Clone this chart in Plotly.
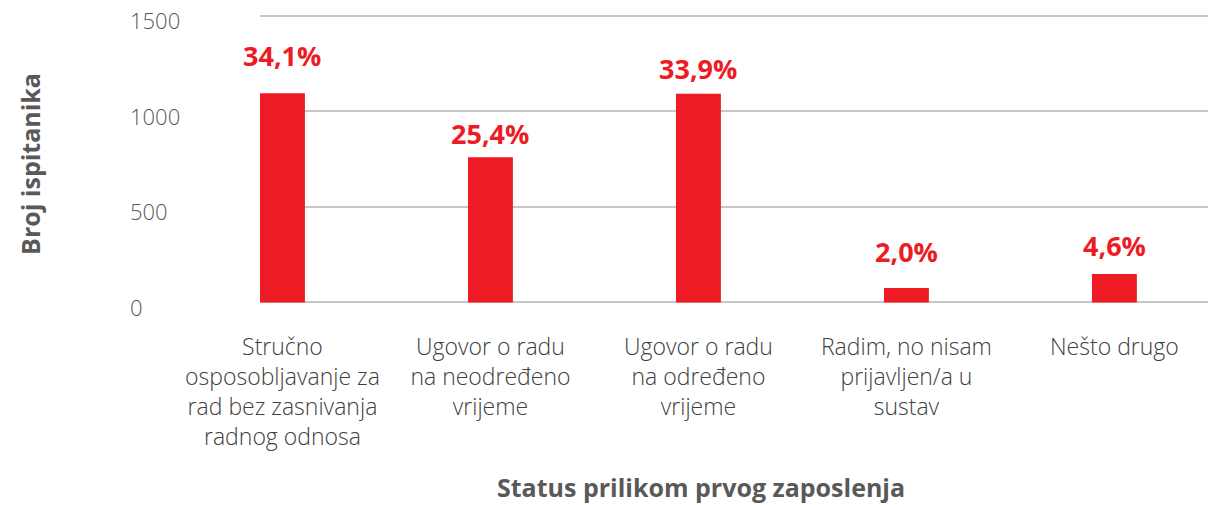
import plotly.graph_objects as go

categories = [
    "Stručno<br>osposobljavanje za<br>rad bez zasnivanja<br>radnog odnosa",
    "Ugovor o radu<br>na neodređeno<br>vrijeme",
    "Ugovor o radu<br>na određeno<br>vrijeme",
    "Radim, no nisam<br>prijavljen/a u<br>sustav",
    "Nešto drugo",
]
counts = [1095, 760, 1093, 76, 149]
percent_labels = ["34,1%", "25,4%", "33,9%", "2,0%", "4,6%"]
y_ticks = [0, 500, 1000, 1500]
y_tick_labels = ["0", "500", "1000", "1500"]
x_title = "Status prilikom prvog zaposlenja"
y_title = "Broj ispitanika"

# styling
RED = "#ED1C24"
GRAY = "#595959"
label_shifts = [38, 24, 25, 36, 29]

x_idx = list(range(len(categories)))

fig = go.Figure(
    go.Bar(
        x=x_idx,
        y=counts,
        marker=dict(color=RED, line=dict(width=0)),
        width=0.216,
        hoverinfo="skip",
    )
)

annotations = []
for i, (v, t) in enumerate(zip(counts, percent_labels)):
    annotations.append(dict(
        x=i, y=v, xref="x", yref="y", text=t, showarrow=False,
        yanchor="middle", xanchor="center", yshift=label_shifts[i],
        font=dict(family="Open Sans", size=27, color=RED, weight=700),
    ))
for tv, tl in zip(y_ticks, y_tick_labels):
    annotations.append(dict(
        x=-0.138, y=tv, xref="paper", yref="y", text=tl, showarrow=False,
        xanchor="left", yanchor="middle", yshift=-4.5, borderpad=0,
        font=dict(family="Open Sans", size=22, color=GRAY, weight=300),
    ))
annotations.append(dict(
    x=-0.242, y=0.48, xref="paper", yref="paper", text=y_title, showarrow=False,
    textangle=-90, xanchor="center", yanchor="middle",
    font=dict(family="Open Sans", size=25, color=GRAY, weight=700),
))
annotations.append(dict(
    x=0.465, y=-0.628, xref="paper", yref="paper", text=x_title, showarrow=False,
    xanchor="center", yanchor="middle",
    font=dict(family="Open Sans", size=25, color=GRAY, weight=700),
))

fig.update_layout(
    width=1208, height=505,
    margin=dict(l=260, r=0, t=12.6, b=201),
    paper_bgcolor="white", plot_bgcolor="white",
    showlegend=False,
    annotations=annotations,
    xaxis=dict(
        range=[-0.108, 4.45],
        tickmode="array", tickvals=x_idx, ticktext=categories,
        showgrid=False, zeroline=False, showline=False, ticks="",
        tickangle=0,
        ticklabelstandoff=27,
        tickfont=dict(family="Open Sans", size=23, color="#404040", weight=300),
    ),
    yaxis=dict(
        range=[-8, 1515],
        tickmode="array", tickvals=y_ticks, showticklabels=False,
        showgrid=True, gridcolor="#C6C6C6", gridwidth=1.5,
        zeroline=False, showline=False, ticks="",
    ),
)

fig.write_html(
    "out.html",
    config={"displayModeBar": False},
    post_script="document.body.style.margin='0px';",
)
